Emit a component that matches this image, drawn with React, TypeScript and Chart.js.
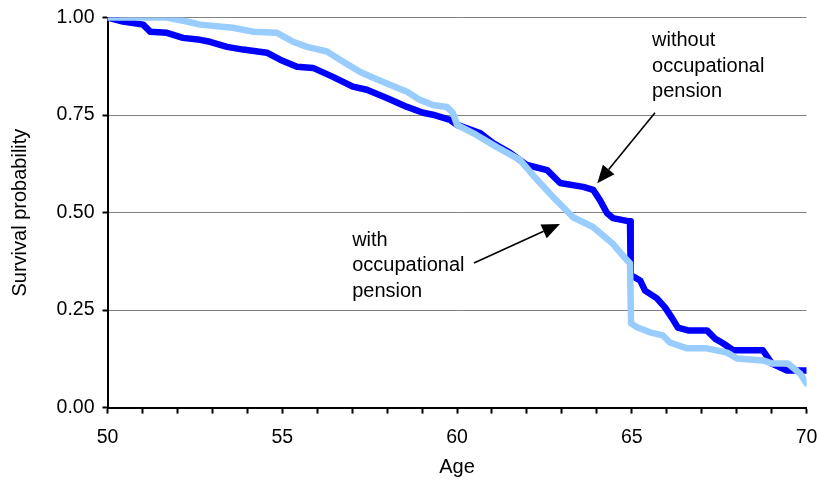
import React, { useEffect, useRef } from "react";
import { Chart, registerables } from "chart.js";

Chart.register(...registerables);

// Survival curves (age, probability)
const withoutAges = [50, 50.44, 51.02, 51.22, 51.7, 52.16, 52.65, 52.93, 53.42, 53.88, 54.56, 54.94, 55.42, 55.88, 56.45, 57.02, 57.42, 57.99, 58.57, 59.03, 59.31, 59.8, 60.0, 60.66, 61.03, 61.52, 62.0, 62.58, 62.95, 63.61, 63.9, 64.09, 64.29, 64.46, 64.89, 64.95, 64.97, 65.24, 65.38, 65.72, 65.95, 66.15, 66.32, 66.61, 67.15, 67.38, 67.61, 67.9, 68.75, 69.01, 69.44, 70.0];
const withoutProb = [1.0, 0.99, 0.982, 0.964, 0.961, 0.948, 0.943, 0.938, 0.925, 0.918, 0.91, 0.892, 0.874, 0.871, 0.848, 0.823, 0.815, 0.794, 0.771, 0.756, 0.751, 0.738, 0.725, 0.704, 0.678, 0.653, 0.622, 0.609, 0.576, 0.566, 0.558, 0.532, 0.499, 0.486, 0.478, 0.478, 0.34, 0.326, 0.3, 0.28, 0.257, 0.23, 0.205, 0.198, 0.198, 0.177, 0.165, 0.147, 0.147, 0.113, 0.095, 0.095];

const withAges = [50, 51.7, 52.27, 52.65, 53.59, 54.16, 54.85, 55.31, 55.71, 56.28, 56.65, 57.22, 57.6, 58.08, 58.57, 58.94, 59.31, 59.71, 59.88, 60.0, 60.46, 61.14, 61.8, 62.29, 62.75, 63.32, 63.89, 64.46, 64.86, 64.95, 64.98, 65.15, 65.52, 65.89, 66.09, 66.58, 67.15, 67.73, 68.01, 68.75, 69.04, 69.47, 69.82, 70.0];
const withProb = [1.0, 1.0, 0.99, 0.982, 0.974, 0.964, 0.961, 0.938, 0.925, 0.913, 0.892, 0.861, 0.846, 0.828, 0.81, 0.789, 0.776, 0.771, 0.756, 0.725, 0.704, 0.668, 0.635, 0.584, 0.54, 0.488, 0.463, 0.42, 0.378, 0.37, 0.216, 0.206, 0.193, 0.185, 0.167, 0.152, 0.152, 0.141, 0.126, 0.121, 0.113, 0.113, 0.087, 0.062];

const xTicks = [50, 55, 60, 65, 70];
const yTicks = [0, 0.25, 0.5, 0.75, 1.0];

const withoutLabel = ["without", "occupational", "pension"];
const withLabel = ["with", "occupational", "pension"];

const FONT = "'Liberation Sans', Arial, sans-serif";

const annotationPlugin = {
  id: "annotations",
  afterDraw(chart: any) {
    const { ctx, scales } = chart;
    const xs = scales.x;
    const ys = scales.y;
    const px = (a: number) => xs.getPixelForValue(a);
    const py = (p: number) => ys.getPixelForValue(p);
    ctx.save();
    ctx.fillStyle = "#000";
    ctx.font = `20px ${FONT}`;
    ctx.textAlign = "left";
    ctx.textBaseline = "alphabetic";
    const drawBlock = (lines: string[], a: number, p: number) => {
      const x = px(a);
      const y = py(p);
      lines.forEach((t, i) => ctx.fillText(t, x, y + i * 25.5));
    };
    drawBlock(withoutLabel, 65.58, 0.926);
    drawBlock(withLabel, 57.0, 0.415);

    const arrow = (a1: number, p1: number, a2: number, p2: number) => {
      const x1 = px(a1), y1 = py(p1), x2 = px(a2), y2 = py(p2);
      const ang = Math.atan2(y2 - y1, x2 - x1);
      const hl = 18, hw = 7.5;
      const bx = x2 - hl * Math.cos(ang);
      const by = y2 - hl * Math.sin(ang);
      ctx.strokeStyle = "#000";
      ctx.lineWidth = 1.6;
      ctx.beginPath();
      ctx.moveTo(x1, y1);
      ctx.lineTo(bx, by);
      ctx.stroke();
      ctx.beginPath();
      ctx.moveTo(x2, y2);
      ctx.lineTo(bx + hw * Math.sin(ang), by - hw * Math.cos(ang));
      ctx.lineTo(bx - hw * Math.sin(ang), by + hw * Math.cos(ang));
      ctx.closePath();
      ctx.fill();
    };
    arrow(65.665, 0.756, 64.014, 0.575);
    arrow(60.486, 0.371, 62.947, 0.471);
    ctx.restore();
  },
};

export default function App() {
  const ref = useRef<HTMLCanvasElement>(null);
  useEffect(() => {
    if (!ref.current) return;
    Chart.defaults.font.family = FONT;
    const chart = new Chart(ref.current, {
      type: "line",
      data: {
        datasets: [
          {
            label: "with occupational pension",
            data: withAges.map((a, i) => ({ x: a, y: withProb[i] })),
            borderColor: "#99CCFF",
            backgroundColor: "#99CCFF",
            borderWidth: 6.5,
            pointRadius: 0,
            tension: 0,
            borderJoinStyle: "round",
            borderCapStyle: "round",
            order: 0,
          },
          {
            label: "without occupational pension",
            data: withoutAges.map((a, i) => ({ x: a, y: withoutProb[i] })),
            borderColor: "#0000FF",
            backgroundColor: "#0000FF",
            borderWidth: 6.5,
            pointRadius: 0,
            tension: 0,
            borderJoinStyle: "round",
            borderCapStyle: "round",
            order: 1,
          },
        ],
      },
      options: {
        animation: false,
        responsive: false,
        layout: { padding: { top: 17.6, right: 12.5, left: 0, bottom: 0 } },
        plugins: { legend: { display: false }, tooltip: { enabled: false } },
        scales: {
          x: {
            type: "linear",
            min: 50,
            max: 70,
            afterFit: (s: any) => { s.height = 76.4; s.paddingLeft = 0; s.paddingRight = 0; },
            ticks: {
              stepSize: 1,
              autoSkip: false,
              maxRotation: 0,
              padding: 12,
              color: "#000",
              font: { size: 19.5 },
              callback: (v: any) => (xTicks.includes(Number(v)) ? String(v) : ""),
            },
            grid: { drawOnChartArea: false, drawTicks: true, tickLength: 6, tickColor: "#000", tickWidth: 2 },
            border: { display: true, color: "#000", width: 2 },
            title: { display: true, text: "Age", color: "#000", font: { size: 20 }, padding: { top: 0, bottom: 5 } },
          },
          y: {
            type: "linear",
            min: 0,
            max: 1,
            afterFit: (s: any) => { s.width = 107.5; s.paddingTop = 0; s.paddingBottom = 0; },
            ticks: {
              stepSize: 0.25,
              padding: 8,
              color: "#000",
              font: { size: 19.5 },
              callback: (v: any) => (yTicks.some((t) => Math.abs(t - Number(v)) < 1e-6) ? Number(v).toFixed(2) : ""),
            },
            grid: { color: "#808080", lineWidth: 1, drawTicks: true, tickLength: 5, tickColor: "#000", tickWidth: 2 },
            border: { display: true, color: "#000", width: 2 },
            title: { display: true, text: "Survival probability", color: "#000", font: { size: 20 }, padding: { top: 8, bottom: 0 } },
          },
        },
      },
      plugins: [annotationPlugin],
    } as any);
    return () => chart.destroy();
  }, []);
  return (
    <div style={{ position: "fixed", left: 0, top: 0, width: 819, height: 484, background: "#fff" }}>
      <canvas ref={ref} width={819} height={484} style={{ display: "block" }} />
    </div>
  );
}
